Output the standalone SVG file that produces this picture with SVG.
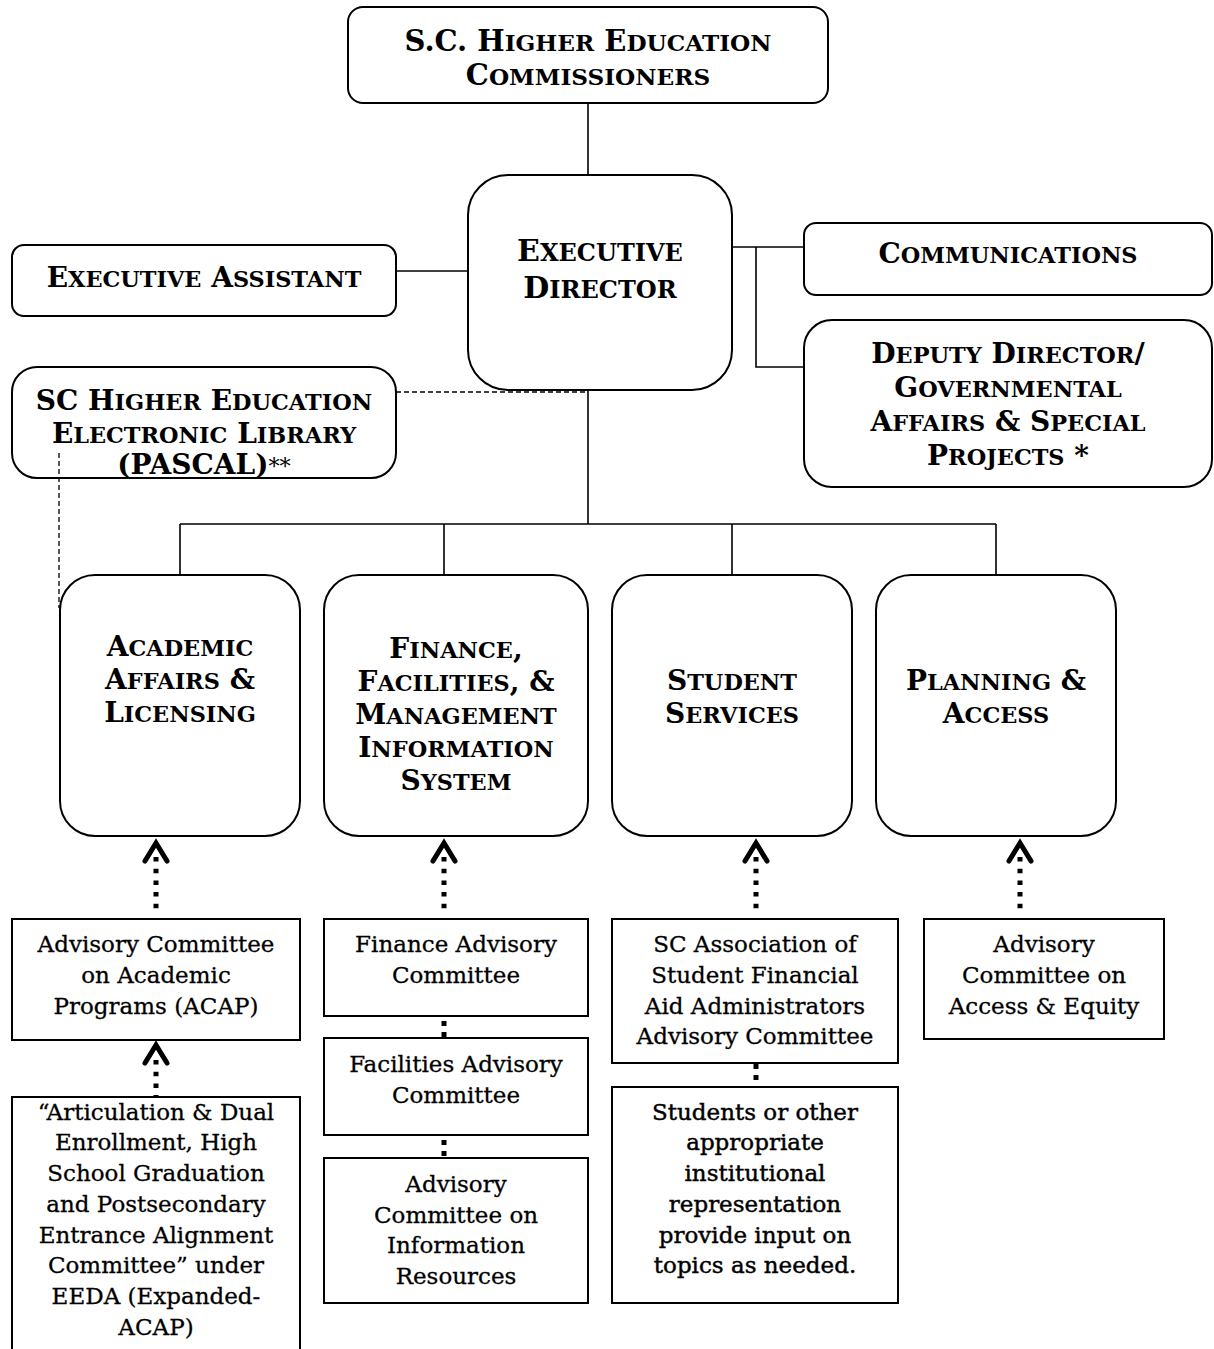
<svg xmlns="http://www.w3.org/2000/svg" width="1214" height="1349" viewBox="0 0 1214 1349">
<style>
.box{fill:#fff;stroke:#000;stroke-width:2}
.ln{stroke:#000;stroke-width:1.6;fill:none}
.dash{stroke:#000;stroke-width:1.3;stroke-dasharray:5 3;fill:none}
.dot{stroke:#000;stroke-width:5;stroke-dasharray:4.5 7.2;fill:none}
.chev{stroke:#000;stroke-width:5;fill:none;stroke-linecap:round;stroke-linejoin:miter}
.h{font-family:"DejaVu Serif","Liberation Serif",serif;font-weight:bold;font-size:28px;text-anchor:middle;fill:#000}
.c{font-size:0.8em}
.n{font-weight:normal;font-size:0.8em}
.t{font-family:"DejaVu Serif","Liberation Serif",serif;font-size:23px;text-anchor:middle;fill:#000;stroke:#000;stroke-width:0.3}
.sb{stroke-width:0.45}
</style>
<rect width="1214" height="1349" fill="#fff"/>

<g id="commissioners">
<rect class="box" x="348" y="7" width="480" height="96" rx="15"/>
<text class="h" x="588" y="51" style="font-size:29px">S.C. H<tspan class="c">IGHER</tspan> E<tspan class="c">DUCATION</tspan></text>
<text class="h" x="588" y="85" style="font-size:29px">C<tspan class="c">OMMISSIONERS</tspan></text>
</g>

<g id="executive-director">
<rect class="box" x="468" y="175" width="264" height="215" rx="40"/>
<text class="h" x="600" y="261" style="font-size:30px">E<tspan class="c">XECUTIVE</tspan></text>
<text class="h" x="600" y="298" style="font-size:30px">D<tspan class="c">IRECTOR</tspan></text>
</g>

<g id="executive-assistant">
<rect class="box" x="12" y="245" width="384" height="71" rx="12"/>
<text class="h" x="204" y="287">E<tspan class="c">XECUTIVE</tspan> A<tspan class="c">SSISTANT</tspan></text>
</g>

<g id="communications">
<rect class="box" x="804" y="223" width="408" height="72" rx="12"/>
<text class="h" x="1008" y="263">C<tspan class="c">OMMUNICATIONS</tspan></text>
</g>

<g id="deputy-director">
<rect class="box" x="804" y="320" width="408" height="167" rx="28"/>
<text class="h" x="1008" y="363">D<tspan class="c">EPUTY</tspan> D<tspan class="c">IRECTOR</tspan>/</text>
<text class="h" x="1008" y="397">G<tspan class="c">OVERNMENTAL</tspan></text>
<text class="h" x="1008" y="431">A<tspan class="c">FFAIRS</tspan> &amp; S<tspan class="c">PECIAL</tspan></text>
<text class="h" x="1008" y="465">P<tspan class="c">ROJECTS</tspan> *</text>
</g>

<g id="pascal">
<rect class="box" x="12" y="367" width="384" height="111" rx="25"/>
<text class="h" x="204" y="410">SC H<tspan class="c">IGHER</tspan> E<tspan class="c">DUCATION</tspan></text>
<text class="h" x="204" y="443">E<tspan class="c">LECTRONIC</tspan> L<tspan class="c">IBRARY</tspan></text>
<text class="h" x="204" y="474">(PASCAL)<tspan class="n">**</tspan></text>
</g>

<g id="academic-affairs">
<rect class="box" x="60" y="575" width="240" height="261" rx="35"/>
<text class="h" x="180" y="656">A<tspan class="c">CADEMIC</tspan></text>
<text class="h" x="180" y="689">A<tspan class="c">FFAIRS</tspan> &amp;</text>
<text class="h" x="180" y="722">L<tspan class="c">ICENSING</tspan></text>
</g>

<g id="finance">
<rect class="box" x="324" y="575" width="264" height="261" rx="35"/>
<text class="h" x="456" y="658">F<tspan class="c">INANCE</tspan>,</text>
<text class="h" x="456" y="691">F<tspan class="c">ACILITIES</tspan>, &amp;</text>
<text class="h" x="456" y="724">M<tspan class="c">ANAGEMENT</tspan></text>
<text class="h" x="456" y="757">I<tspan class="c">NFORMATION</tspan></text>
<text class="h" x="456" y="790">S<tspan class="c">YSTEM</tspan></text>
</g>

<g id="student-services">
<rect class="box" x="612" y="575" width="240" height="261" rx="35"/>
<text class="h" x="732" y="690">S<tspan class="c">TUDENT</tspan></text>
<text class="h" x="732" y="723">S<tspan class="c">ERVICES</tspan></text>
</g>

<g id="planning-access">
<rect class="box" x="876" y="575" width="240" height="261" rx="35"/>
<text class="h" x="996" y="690">P<tspan class="c">LANNING</tspan> &amp;</text>
<text class="h" x="996" y="723">A<tspan class="c">CCESS</tspan></text>
</g>

<g id="acap">
<rect class="box" x="12" y="919" width="288" height="121"/>
<text class="t" x="156" y="952">Advisory Committee</text>
<text class="t" x="156" y="983">on Academic</text>
<text class="t" x="156" y="1014">Programs (ACAP)</text>
</g>

<g id="expanded-acap">
<rect class="box" x="12" y="1097" width="288" height="300"/>
<text class="t" x="156" y="1120">“Articulation &amp; Dual</text>
<text class="t" x="156" y="1150">Enrollment, High</text>
<text class="t" x="156" y="1181">School Graduation</text>
<text class="t" x="156" y="1212">and Postsecondary</text>
<text class="t" x="156" y="1243">Entrance Alignment</text>
<text class="t" x="156" y="1273">Committee” under</text>
<text class="t" x="156" y="1304">EEDA (Expanded-</text>
<text class="t" x="156" y="1335">ACAP)</text>
</g>

<g id="finance-advisory">
<rect class="box" x="324" y="919" width="264" height="97"/>
<text class="t" x="456" y="952">Finance Advisory</text>
<text class="t" x="456" y="983">Committee</text>
</g>

<g id="facilities-advisory">
<rect class="box" x="324" y="1038" width="264" height="97"/>
<text class="t" x="456" y="1072">Facilities Advisory</text>
<text class="t" x="456" y="1103">Committee</text>
</g>

<g id="information-resources">
<rect class="box" x="324" y="1158" width="264" height="145"/>
<text class="t" x="456" y="1192">Advisory</text>
<text class="t" x="456" y="1223">Committee on</text>
<text class="t" x="456" y="1253">Information</text>
<text class="t" x="456" y="1284">Resources</text>
</g>

<g id="scasfaa">
<rect class="box" x="612" y="919" width="286" height="144"/>
<text class="t" x="755" y="952">SC Association of</text>
<text class="t" x="755" y="983">Student Financial</text>
<text class="t" x="755" y="1014">Aid Administrators</text>
<text class="t" x="755" y="1044">Advisory Committee</text>
</g>

<g id="students-input">
<rect class="box" x="612" y="1087" width="286" height="216"/>
<text class="t sb" x="755" y="1120">Students or other</text>
<text class="t sb" x="755" y="1150">appropriate</text>
<text class="t sb" x="755" y="1181">institutional</text>
<text class="t sb" x="755" y="1212">representation</text>
<text class="t sb" x="755" y="1243">provide input on</text>
<text class="t sb" x="755" y="1273">topics as needed.</text>
</g>

<g id="access-equity">
<rect class="box" x="924" y="919" width="240" height="120"/>
<text class="t" x="1044" y="952">Advisory</text>
<text class="t" x="1044" y="983">Committee on</text>
<text class="t" x="1044" y="1014">Access &amp; Equity</text>
</g>

<g id="connectors">
<path class="ln" d="M588 103V175"/>
<path class="ln" d="M396 271H468"/>
<path class="ln" d="M732 247H804M756 247V367H804"/>
<path class="ln" d="M588 390V524M180 524H996M180 524V575M444 524V575M732 524V575M996 524V575"/>
<path class="dash" d="M396 392H588"/>
<path class="dash" d="M59 453V608"/>
<path class="dot" d="M156 857V912M444 857V912M756 857V912M1020 857V912M156 1060V1097"/>
<path class="dot" style="stroke-dasharray:5 6" d="M444 1021V1038M444 1140V1158M756 1064V1087"/>
<polyline class="chev" points="145,861 156,843 167,861"/>
<polyline class="chev" points="433,861 444,843 455,861"/>
<polyline class="chev" points="745,861 756,843 767,861"/>
<polyline class="chev" points="1009,861 1020,843 1031,861"/>
<polyline class="chev" points="145,1063 156,1045 167,1063"/>
</g>
</svg>
